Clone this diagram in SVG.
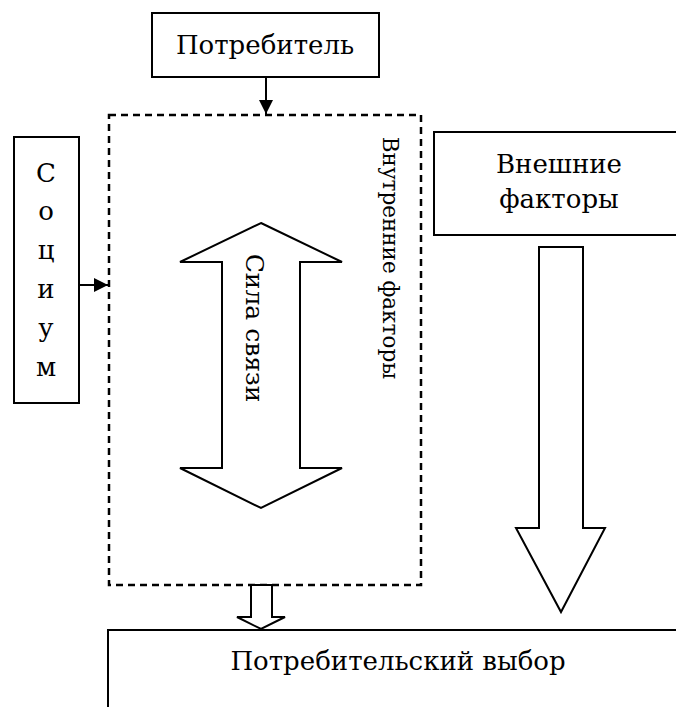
<svg xmlns="http://www.w3.org/2000/svg" width="676" height="707" viewBox="0 0 676 707">
<style>
.box{fill:#fff;stroke:#000;stroke-width:2}
.blk{fill:#fff;stroke:#000;stroke-width:2;stroke-linejoin:miter}
.dash{fill:none;stroke:#000;stroke-width:2.5;stroke-dasharray:7,5}
.t{font-family:"DejaVu Serif","Liberation Serif",serif;font-size:26px;fill:#000}
.ln{stroke:#000;stroke-width:2;fill:none}
</style>
<defs>
<marker id="ah" viewBox="0 0 10 10" refX="10" refY="5" markerWidth="7" markerHeight="7" orient="auto" markerUnits="strokeWidth">
<path d="M0,0 L10,5 L0,10 z" fill="#000"/>
</marker>
</defs>
<rect width="676" height="707" fill="#fff"/>
<g id="inner">
<rect class="dash" x="109" y="115" width="312" height="470"/>
<text class="t" transform="translate(383,258) rotate(90)" text-anchor="middle" style="font-size:21.5px">Внутренние факторы</text>
</g>
<g id="consumer">
<rect class="box" x="152" y="13" width="227" height="64"/>
<text class="t" x="265" y="54" text-anchor="middle">Потребитель</text>
</g>
<g id="socium">
<rect class="box" x="14" y="137" width="65" height="266"/>
<text class="t" text-anchor="middle"><tspan x="46" y="182">С</tspan><tspan x="46" y="220">о</tspan><tspan x="46" y="259">ц</tspan><tspan x="46" y="298">и</tspan><tspan x="46" y="337">у</tspan><tspan x="46" y="376">м</tspan></text>
</g>
<g id="external">
<path class="box" d="M677,132 H434 V235 H677"/>
<text class="t" text-anchor="middle"><tspan x="559" y="173">Внешние</tspan><tspan x="559" y="208">факторы</tspan></text>
</g>
<g id="strength">
<path class="blk" d="M261,223 L342,262 H300 V468 H342 L261,508 L180,468 H222 V262 H180 Z"/>
<text class="t" transform="translate(246,328) rotate(90)" text-anchor="middle" style="font-size:25px">Сила связи</text>
</g>
<g id="choice">
<path class="box" d="M677,630 H108 V708"/>
<text class="t" x="398" y="670" text-anchor="middle">Потребительский выбор</text>
</g>
<g id="connectors">
<line class="ln" x1="266" y1="77" x2="266" y2="114" marker-end="url(#ah)"/>
<line class="ln" x1="79" y1="285" x2="108" y2="285" marker-end="url(#ah)"/>
<path class="blk" d="M539,247 H583 V528 H605 L561,612 L516,528 H539 Z"/>
<path class="blk" d="M251,585 H272 V617 H285 L261,629 L237,617 H251 Z"/>
</g>
</svg>
